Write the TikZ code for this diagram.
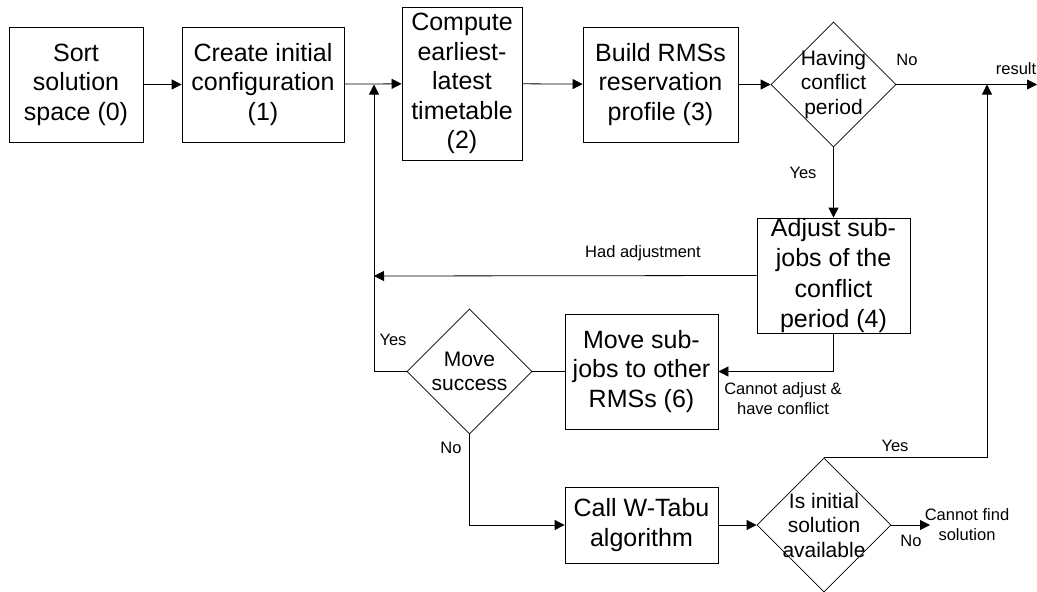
\documentclass[tikz,border=0pt]{standalone}
\usepackage{fontspec}
\setmainfont{Liberation Sans}
\usetikzlibrary{shapes.geometric,arrows.meta}

\tikzset{
  box/.style={draw, line width=0.8pt, rectangle, inner sep=0pt},
  decision/.style={draw, line width=0.8pt, diamond, inner sep=0pt, aspect=1},
  boxtext/.style={align=center, inner sep=0pt, font=\fontsize{25}{29.5}\selectfont},
  dectext/.style={align=center, inner sep=0pt, font=\fontsize{21}{24.5}\selectfont},
  lbl/.style={align=center, inner sep=0pt, font=\fontsize{16.5}{20}\selectfont},
  flow/.style={line width=0.8pt, -{Triangle[length=10pt,width=10pt]}},
  plain/.style={line width=0.8pt}
}

\begin{document}
\begin{tikzpicture}[x=1pt, y=-1pt]
\useasboundingbox (0,0) rectangle (1037,592);

% process boxes
\node[box, minimum width=134, minimum height=115] (sort)    at (76,84.5)    {};
\node[box, minimum width=162, minimum height=115] (create)  at (263,84.5)   {};
\node[box, minimum width=120, minimum height=153] (compute) at (462,83.5)   {};
\node[box, minimum width=155, minimum height=115] (build)   at (660.5,84.5) {};
\node[box, minimum width=153, minimum height=115] (adjust)  at (833.5,275.5){};
\node[box, minimum width=153, minimum height=115] (move)    at (641.5,371.5){};
\node[box, minimum width=153, minimum height=76]  (tabu)    at (641.5,525)  {};

% decisions
\node[decision, minimum width=125, minimum height=125] (conflict) at (833.5,84.5)  {};
\node[decision, minimum width=125, minimum height=125] (success)  at (469.5,371.5) {};
\node[decision, minimum width=134, minimum height=134] (initial)  at (824,525)     {};

% texts inside the shapes
\node[boxtext] (sort-t)    at (sort)    {Sort\\solution\\space (0)};
\node[boxtext] (create-t)  at (create)  {Create initial\\configuration\\(1)};
\node[boxtext] (compute-t) at (compute) {Compute\\earliest-\\latest\\timetable\\(2)};
\node[boxtext] (build-t)   at (build)   {Build RMSs\\reservation\\profile (3)};
\node[boxtext, font=\fontsize{25}{30.5}\selectfont] (adjust-t) at (adjust) {Adjust sub-\\jobs of the\\conflict\\period (4)};
\node[boxtext] (move-t)    at (move)    {Move sub-\\jobs to other\\RMSs (6)};
\node[boxtext] (tabu-t)    at (tabu)    {Call W-Tabu\\algorithm};
\node[dectext] (conflict-t) at (conflict) {Having\\conflict\\period};
\node[dectext] (success-t)  at (success)  {Move\\success};
\node[dectext] (initial-t)  at (initial)  {Is initial\\solution\\available};

% junctions and free ends
\coordinate (jleft)  at (374,84.5);
\coordinate (jright) at (987,84.5);
\coordinate (result) at (1037,84.5);
\coordinate (back)   at (374,276);
\coordinate (nosol)  at (930,525);

% main flow
\draw[flow] (sort) -- (create);
\draw[flow] (create) -- (compute);
\draw[flow] (compute) -- (build);
\draw[flow] (build) -- (conflict);
\draw[flow] (conflict.east) -- (result);
\draw[flow] (conflict.south) -- (adjust.north);
\draw[flow] (adjust.west) -- (back);
\draw[flow] (adjust.south) |- (move.east);
\draw[plain] (move.west) -- (success.east);
\draw[flow] (success.west) -| (jleft);
\draw[flow] (success.south) |- (tabu.west);
\draw[flow] (tabu) -- (initial);
\draw[flow] (initial.east) -- (nosol);
\draw[flow] (initial.north) -| (jright);

% connector labels
\node[lbl] (l-result) at (1016,69)  {result};
\node[lbl] (l-no1)    at (907,60)   {No};
\node[lbl] (l-yes1)   at (803,173)  {Yes};
\node[lbl] (l-had)    at (643,253)  {Had adjustment};
\node[lbl] (l-cannot) at (783,399)  {Cannot adjust \&\\have conflict};
\node[lbl] (l-yes2)   at (393,340)  {Yes};
\node[lbl] (l-no2)    at (451,448)  {No};
\node[lbl] (l-yes3)   at (895,446)  {Yes};
\node[lbl] (l-no3)    at (911,541)  {No};
\node[lbl] (l-nosol)  at (967,525)  {Cannot find\\solution};
\end{tikzpicture}
\end{document}
